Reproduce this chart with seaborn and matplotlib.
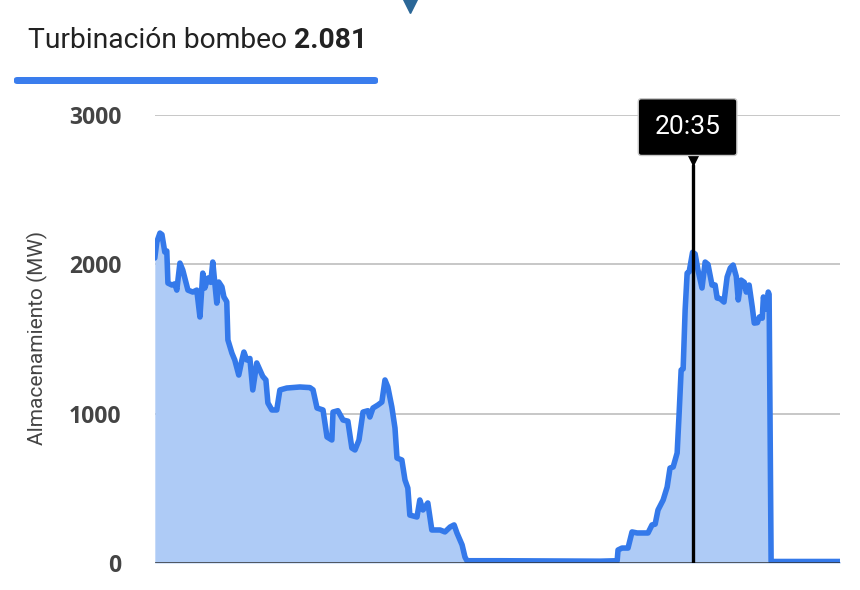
import matplotlib
matplotlib.use("Agg")
import matplotlib.pyplot as plt
import seaborn as sns
import pandas as pd
from matplotlib.patches import FancyBboxPatch

# horas (desde medianoche) y MW
horas = [1.75, 1.82, 1.93, 2.00, 2.10, 2.17, 2.21, 2.35, 2.45, 2.52, 2.63, 2.73, 2.91, 3.08,
         3.22, 3.33, 3.43, 3.50, 3.61, 3.71, 3.78, 3.92, 3.99, 4.10, 4.17, 4.27, 4.31, 4.45,
         4.55, 4.69, 4.80, 4.87, 4.97, 5.08, 5.18, 5.32, 5.43, 5.53, 5.64, 5.71, 5.85, 6.02,
         6.13, 6.37, 6.83, 7.18, 7.29, 7.43, 7.64, 7.78, 7.95, 7.99, 8.16, 8.34, 8.51, 8.65,
         8.76, 8.90, 9.04, 9.21, 9.28, 9.39, 9.56, 9.70, 9.81, 9.91, 10.05, 10.16, 10.23,
         10.40, 10.51, 10.61, 10.68, 10.93, 11.03, 11.14, 11.31, 11.45, 11.74, 11.91, 12.09,
         12.23, 12.33, 12.51, 12.61, 12.68, 13.14, 13.84, 17.34, 17.94, 17.97, 18.11, 18.32,
         18.46, 18.64, 19.02, 19.16, 19.27, 19.37, 19.55, 19.69, 19.79, 19.90, 20.04, 20.11,
         20.18, 20.25, 20.32, 20.39, 20.46, 20.58, 20.67, 20.77, 20.91, 21.02, 21.12, 21.26,
         21.37, 21.44, 21.55, 21.68, 21.79, 21.90, 22.00, 22.11, 22.18, 22.28, 22.39, 22.46,
         22.56, 22.67, 22.74, 22.85, 22.92, 23.02, 23.06, 23.16, 23.23, 23.26, 23.33, 25.75]
mw = [2043, 2150, 2210, 2200, 2083, 2090, 1875, 1862, 1870, 1828, 2009, 1962, 1828, 1815,
      1828, 1648, 1942, 1842, 1909, 1880, 2016, 1741, 1882, 1850, 1782, 1750, 1494, 1406,
      1360, 1259, 1360, 1413, 1360, 1370, 1159, 1340, 1293, 1250, 1226, 1072, 1025, 1025,
      1159, 1172, 1179, 1175, 1160, 1038, 1025, 844, 824, 1011, 1020, 958, 950, 770,
      757, 824, 1011, 1020, 978, 1038, 1058, 1078, 1226, 1179, 1045, 904, 703,
      690, 556, 502, 321, 308, 422, 355, 402, 221, 221, 208, 241,
      255, 201, 121, 40, 15, 15, 15, 12, 15, 87, 100, 100,
      208, 201, 201, 255, 260, 355, 422, 509, 636, 643, 737, 1005,
      1293, 1300, 1695, 1942, 1950, 2081, 2070, 1962, 1842, 2016, 2000, 1862,
      1862, 1775, 1770, 1748, 1916, 1976, 1996, 1920, 1762, 1895, 1880, 1815,
      1862, 1715, 1607, 1610, 1648, 1640, 1782, 1700, 1815, 1800, 10, 10]
yticks = [0, 1000, 2000, 3000]
cursor_h = 20.58
cursor_label = "20:35"
valor = "2.081"

df = pd.DataFrame({"hora": horas, "mw": mw})

sns.set_style("white")
plt.rcParams['font.family'] = ['Roboto', 'DejaVu Sans']

fig = plt.figure(figsize=(8.6, 5.9), dpi=100)
ax = fig.add_axes([0.180, 0.0458, 0.797, 0.759])

ax.fill_between(df["hora"], df["mw"], 0, color="#aecbf6", lw=0)
sns.lineplot(data=df, x="hora", y="mw", ax=ax, color="#3479ea", lw=4.0)

ax.set_xlim(horas[0], horas[-1])
ax.set_ylim(0, 3000)
ax.set_yticks(yticks)
ax.set_yticklabels([str(t) for t in yticks], fontsize=16.5, fontweight="bold", color="#444444",
                   family=["Open Sans", "DejaVu Sans"])
ax.tick_params(axis="y", length=0, pad=24)
ax.set_xticks([])
ax.set_xlabel("")
ax.set_ylabel("")
fig.text(37 / 860, 1 - 338 / 590, "Almacenamiento (MW)", rotation=90, fontsize=15,
         color="#444444", ha="center", va="center")
for t in yticks[1:]:
    ax.axhline(t, color="#bdbdbd", lw=1.2, zorder=0.5)
ax.axhline(0, color="#333333", lw=1.8, zorder=3)
for s in ax.spines.values():
    s.set_visible(False)

# cursor + tooltip
ax.plot([cursor_h, cursor_h], [0, 2666], color="black", lw=2.4, zorder=4)
ax.annotate(cursor_label, xy=(cursor_h, 2920), xytext=(-5, 0), textcoords="offset pixels",
            ha="center", va="center", fontsize=19,
            color="white", annotation_clip=False, zorder=6,
            bbox=dict(boxstyle="round,pad=0.62,rounding_size=0.12", fc="black", ec="#c8c8c8", lw=1.0))
ax.plot([cursor_h], [2705], marker="v", color="black", markersize=9, clip_on=False, zorder=5)

# cabecera
t1 = fig.text(28 / 860, 1 - 40 / 590, "Turbinación bombeo ", fontsize=20.3, color="#222222",
              va="center", ha="left")
fig.canvas.draw()
bb = t1.get_window_extent()
fig.text(bb.x1 / 860, 1 - 40 / 590, valor, fontsize=20.3, fontweight="bold", color="#222222",
         va="center", ha="left")
fig.patches.append(FancyBboxPatch((14 / 860, 1 - 84 / 590), 364 / 860, 7 / 590,
                                  boxstyle="round,pad=0,rounding_size=0.004",
                                  transform=fig.transFigure, fc="#3a7ded", ec="none"))
fig.lines.append(plt.Line2D([410 / 860], [1 - 4 / 590], marker="v", markersize=13,
                            color="#2b6797", transform=fig.transFigure))

fig.savefig("out.png", dpi=100)
